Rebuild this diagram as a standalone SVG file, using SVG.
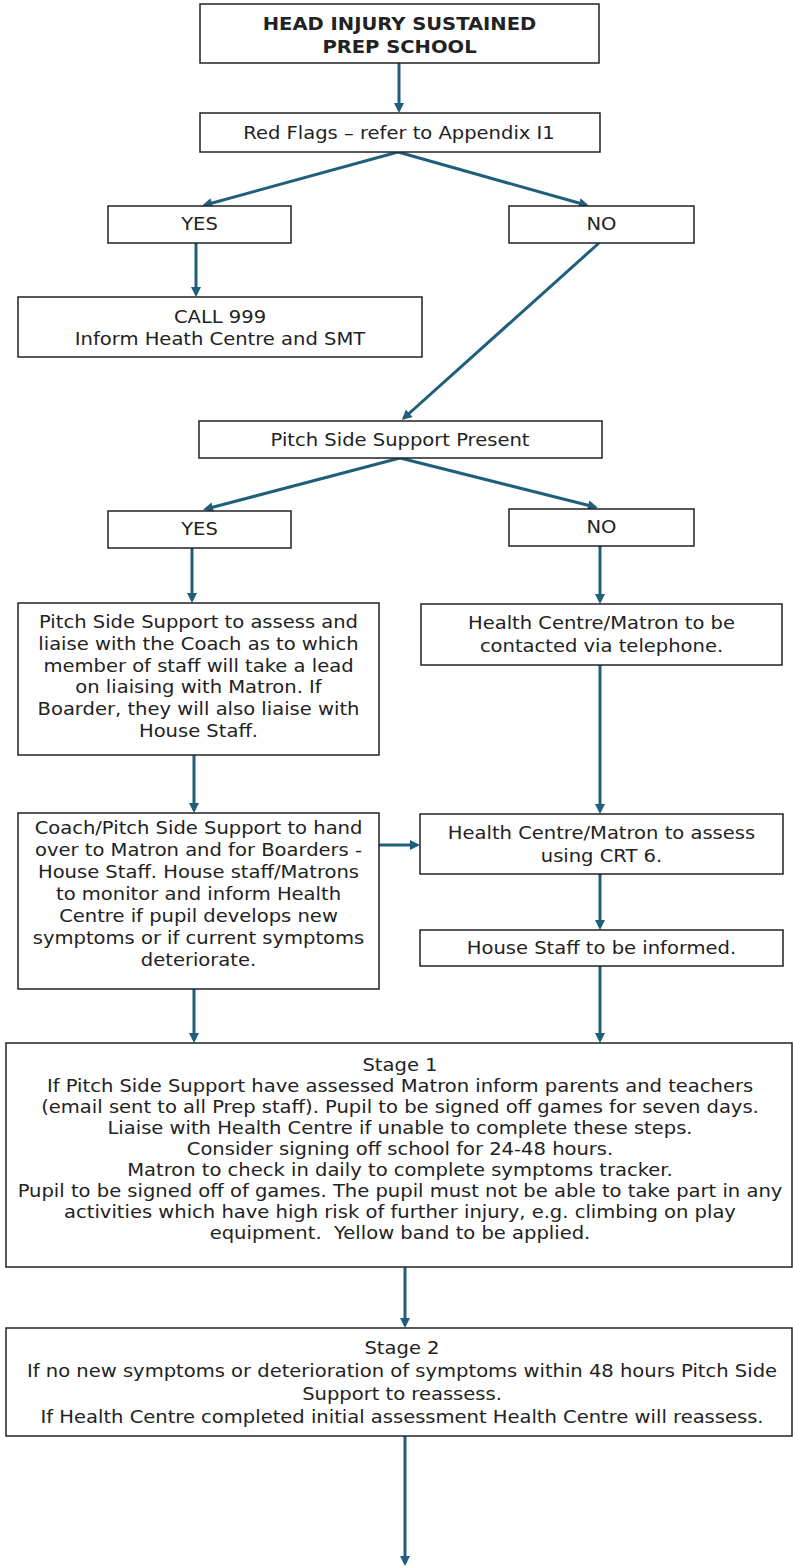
<svg xmlns="http://www.w3.org/2000/svg" width="793" height="1566" viewBox="0 0 793 1566">
  <style>
    .box { fill: #ffffff; stroke: #222222; stroke-width: 1.5; }
    .t { font-family: "DejaVu Sans", Verdana, sans-serif; font-size: 17px; fill: #222222; text-anchor: middle; }
    .b { font-weight: bold; }
    .link { fill: none; stroke: #1f5f7b; stroke-width: 3; marker-end: url(#head); }
  </style>
  <defs>
    <marker id="head" viewBox="0 0 10 10" markerUnits="userSpaceOnUse" markerWidth="11" markerHeight="10" refX="7" refY="5" orient="auto">
      <path d="M0,0 L10,5 L0,10 z" fill="#1f5f7b"/>
    </marker>
  </defs>
  <rect width="793" height="1566" fill="#ffffff"/>

  <!-- connectors -->
  <g id="connectors">
    <path class="link" d="M399,63 L399,110"/>
    <path class="link" d="M398,152 L205,205"/>
    <path class="link" d="M398,152 L586,205"/>
    <path class="link" d="M196,243 L196,294"/>
    <path class="link" d="M599,243 L404,418"/>
    <path class="link" d="M400,458 L206,509"/>
    <path class="link" d="M400,458 L595,507"/>
    <path class="link" d="M192,548 L192,600"/>
    <path class="link" d="M600,546 L600,601"/>
    <path class="link" d="M600,665 L600,811"/>
    <path class="link" d="M194,755 L194,810"/>
    <path class="link" d="M379,845 L417,845"/>
    <path class="link" d="M600,874 L600,927"/>
    <path class="link" d="M194,989 L194,1040"/>
    <path class="link" d="M600,966 L600,1040"/>
    <path class="link" d="M405,1267 L405,1325"/>
    <path class="link" d="M405,1436 L405,1563"/>
  </g>

  <g id="head-injury">
    <rect class="box" x="200" y="4" width="399" height="59"/>
    <g transform="translate(399.5 0) scale(1.15 1)">
      <text class="t b" x="0" y="30">HEAD INJURY SUSTAINED</text>
      <text class="t b" x="0" y="53">PREP SCHOOL</text>
    </g>
  </g>

  <g id="red-flags">
    <rect class="box" x="200" y="113" width="400" height="39"/>
    <g transform="translate(399 0) scale(1.15 1)">
      <text class="t" x="0" y="139">Red Flags – refer to Appendix I1</text>
    </g>
  </g>

  <g id="red-yes">
    <rect class="box" x="108" y="206" width="183" height="37"/>
    <g transform="translate(199.5 0) scale(1.15 1)">
      <text class="t" x="0" y="230">YES</text>
    </g>
  </g>

  <g id="red-no">
    <rect class="box" x="509" y="206" width="185" height="37"/>
    <g transform="translate(601.5 0) scale(1.15 1)">
      <text class="t" x="0" y="230">NO</text>
    </g>
  </g>

  <g id="call-999">
    <rect class="box" x="18" y="297" width="404" height="60"/>
    <g transform="translate(220 0) scale(1.15 1)">
      <text class="t" x="0" y="323">CALL 999</text>
      <text class="t" x="0" y="345">Inform Heath Centre and SMT</text>
    </g>
  </g>

  <g id="pitch-side-present">
    <rect class="box" x="199" y="421" width="403" height="37"/>
    <g transform="translate(400 0) scale(1.15 1)">
      <text class="t" x="0" y="446">Pitch Side Support Present</text>
    </g>
  </g>

  <g id="pitch-yes">
    <rect class="box" x="108" y="511" width="183" height="37"/>
    <g transform="translate(199.5 0) scale(1.15 1)">
      <text class="t" x="0" y="535">YES</text>
    </g>
  </g>

  <g id="pitch-no">
    <rect class="box" x="509" y="509" width="185" height="37"/>
    <g transform="translate(601.5 0) scale(1.15 1)">
      <text class="t" x="0" y="533">NO</text>
    </g>
  </g>

  <g id="pitch-assess">
    <rect class="box" x="18" y="603" width="361" height="152"/>
    <g transform="translate(198.5 0) scale(1.15 1)">
      <text class="t" x="0" y="628">Pitch Side Support to assess and</text>
      <text class="t" x="0" y="650">liaise with the Coach as to which</text>
      <text class="t" x="0" y="672">member of staff will take a lead</text>
      <text class="t" x="0" y="693">on liaising with Matron. If</text>
      <text class="t" x="0" y="715">Boarder, they will also liaise with</text>
      <text class="t" x="0" y="737">House Staff.</text>
    </g>
  </g>

  <g id="phone-contact">
    <rect class="box" x="421" y="604" width="361" height="61"/>
    <g transform="translate(601.5 0) scale(1.15 1)">
      <text class="t" x="0" y="629">Health Centre/Matron to be</text>
      <text class="t" x="0" y="652">contacted via telephone.</text>
    </g>
  </g>

  <g id="handover">
    <rect class="box" x="18" y="813" width="361" height="176"/>
    <g transform="translate(198.5 0) scale(1.15 1)">
      <text class="t" x="0" y="834">Coach/Pitch Side Support to hand</text>
      <text class="t" x="0" y="856">over to Matron and for Boarders -</text>
      <text class="t" x="0" y="878">House Staff. House staff/Matrons</text>
      <text class="t" x="0" y="900">to monitor and inform Health</text>
      <text class="t" x="0" y="922">Centre if pupil develops new</text>
      <text class="t" x="0" y="944">symptoms or if current symptoms</text>
      <text class="t" x="0" y="966">deteriorate.</text>
    </g>
  </g>

  <g id="crt6-assess">
    <rect class="box" x="420" y="814" width="363" height="60"/>
    <g transform="translate(601.5 0) scale(1.15 1)">
      <text class="t" x="0" y="839">Health Centre/Matron to assess</text>
      <text class="t" x="0" y="862">using CRT 6.</text>
    </g>
  </g>

  <g id="house-staff">
    <rect class="box" x="420" y="930" width="363" height="36"/>
    <g transform="translate(601.5 0) scale(1.15 1)">
      <text class="t" x="0" y="954">House Staff to be informed.</text>
    </g>
  </g>

  <g id="stage-1">
    <rect class="box" x="6" y="1043" width="786" height="224"/>
    <g transform="translate(400 0) scale(1.15 1)">
      <text class="t" x="0" y="1071">Stage 1</text>
      <text class="t" x="0" y="1092">If Pitch Side Support have assessed Matron inform parents and teachers</text>
      <text class="t" x="0" y="1113">(email sent to all Prep staff). Pupil to be signed off games for seven days.</text>
      <text class="t" x="0" y="1134">Liaise with Health Centre if unable to complete these steps.</text>
      <text class="t" x="0" y="1155">Consider signing off school for 24-48 hours.</text>
      <text class="t" x="0" y="1176">Matron to check in daily to complete symptoms tracker.</text>
      <text class="t" x="0" y="1197">Pupil to be signed off of games. The pupil must not be able to take part in any</text>
      <text class="t" x="0" y="1218">activities which have high risk of further injury, e.g. climbing on play</text>
      <text class="t" x="0" y="1239">equipment.&#160; Yellow band to be applied.</text>
    </g>
  </g>

  <g id="stage-2">
    <rect class="box" x="6" y="1328" width="786" height="108"/>
    <g transform="translate(402 0) scale(1.15 1)">
      <text class="t" x="0" y="1354">Stage 2</text>
      <text class="t" x="0" y="1377">If no new symptoms or deterioration of symptoms within 48 hours Pitch Side</text>
      <text class="t" x="0" y="1400">Support to reassess.</text>
      <text class="t" x="0" y="1423">If Health Centre completed initial assessment Health Centre will reassess.</text>
    </g>
  </g>
</svg>
